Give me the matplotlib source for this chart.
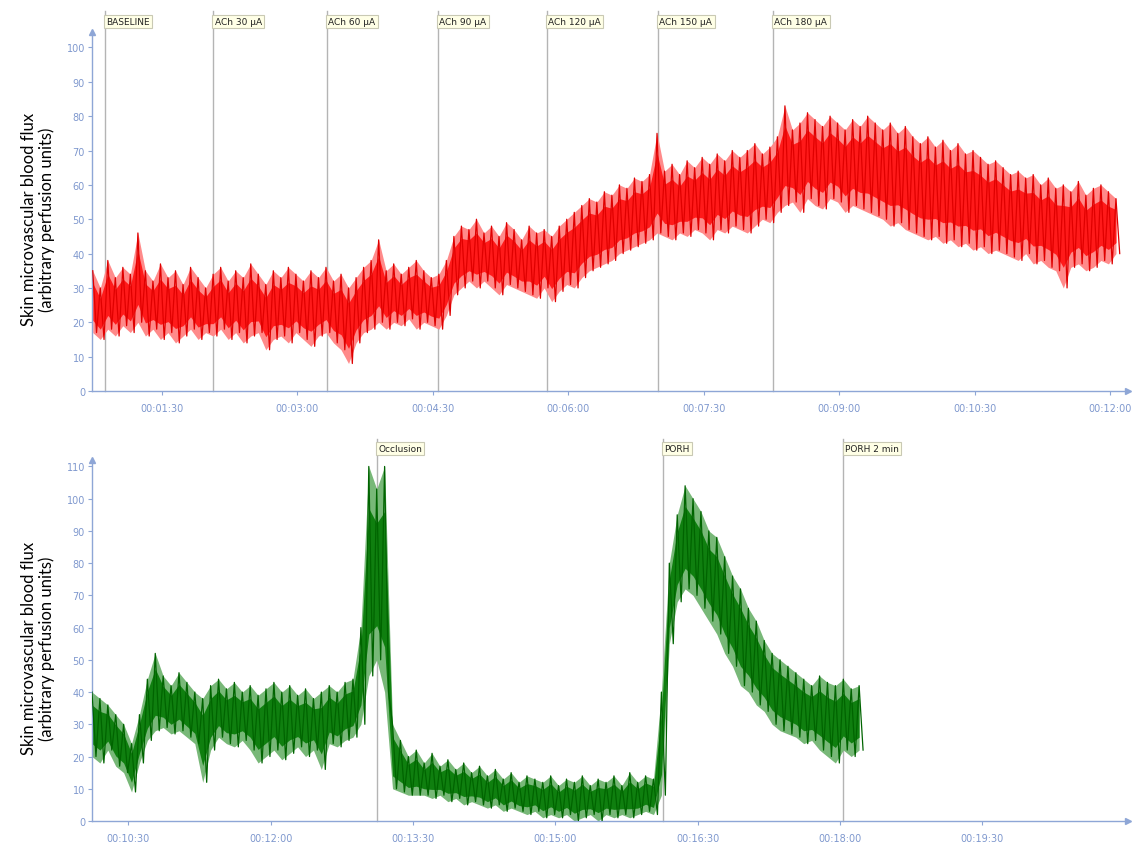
"""Skin microvascular blood flux traces: ACh iontophoresis (top) and PORH (bottom)."""

import matplotlib
matplotlib.use("Agg")
import matplotlib.pyplot as plt
import numpy as np
from matplotlib.ticker import FuncFormatter

# ---- data (seconds, perfusion units) ----
# Each trace is stored as alternating local peaks / troughs every 5 s.
ach_start = 44
ach_peaks = [35, 30, 38, 33, 36, 34, 46, 35, 32, 37, 33, 35, 31, 36, 33, 30, 34, 36, 32, 35,
             33, 37, 34, 31, 35, 33, 36, 34, 32, 35, 33, 36, 32, 34, 30, 33, 36, 38, 44, 35,
             37, 34, 36, 38, 35, 33, 34, 38, 45, 48, 47, 50, 46, 48, 45, 49, 47, 44, 48, 46,
             47, 45, 48, 50, 52, 54, 56, 55, 58, 57, 60, 59, 62, 61, 63, 75, 64, 66, 63, 67,
             65, 68, 66, 69, 67, 70, 68, 70, 72, 69, 71, 74, 83, 76, 78, 81, 79, 77, 80, 78,
             76, 79, 77, 80, 78, 76, 78, 75, 77, 74, 72, 74, 71, 73, 70, 72, 69, 70, 68, 66,
             67, 65, 63, 64, 62, 63, 60, 62, 59, 60, 58, 61, 57, 59, 60, 58, 56]
ach_troughs = [17, 15, 18, 16, 19, 17, 20, 16, 18, 15, 17, 14, 16, 18, 15, 17, 16, 18, 15, 17,
               14, 16, 17, 12, 15, 16, 14, 17, 15, 13, 16, 17, 14, 12, 8, 14, 17, 18, 20, 18,
               20, 19, 21, 18, 20, 19, 18, 22, 28, 30, 32, 30, 32, 30, 28, 31, 30, 29, 28, 27,
               30, 26, 29, 31, 30, 33, 35, 36, 37, 38, 40, 41, 42, 43, 44, 46, 45, 44, 46, 45,
               47, 46, 44, 47, 46, 48, 47, 46, 48, 50, 49, 52, 54, 55, 52, 56, 54, 53, 56, 55,
               52, 54, 53, 52, 51, 50, 48, 49, 47, 46, 45, 44, 45, 43, 44, 42, 43, 41, 42, 40,
               41, 40, 39, 38, 40, 37, 38, 36, 35, 30, 36, 37, 35, 36, 38, 37, 40]
ach_events = [52, 124, 199.6, 273.4, 345.8, 419.6, 496]
ach_labels = ["BASELINE", "ACh 30 µA", "ACh 60 µA", "ACh 90 µA",
              "ACh 120 µA", "ACh 150 µA", "ACh 180 µA"]
ach_xticks = [90, 180, 270, 360, 450, 540, 630, 720]

porh_start = 607
porh_peaks = [40, 38, 36, 33, 30, 24, 33, 44, 52, 45, 42, 46, 43, 40, 38, 42, 44, 41, 43, 40,
              42, 39, 41, 43, 40, 42, 39, 41, 38, 40, 42, 40, 43, 44, 60, 110, 103, 110, 30, 25,
              20, 22, 18, 21, 17, 19, 16, 18, 15, 17, 14, 16, 13, 15, 12, 14, 13, 12, 14, 11,
              13, 12, 14, 11, 13, 12, 14, 11, 15, 12, 14, 13, 40, 80, 95, 104, 100, 96, 90, 88,
              82, 76, 72, 66, 62, 56, 52, 50, 48, 46, 44, 42, 45, 43, 42, 44, 41, 42]
porh_troughs = [20, 18, 22, 17, 15, 9, 18, 25, 28, 29, 27, 28, 26, 24, 12, 22, 26, 24, 23, 25,
                22, 18, 20, 22, 19, 21, 23, 20, 22, 16, 24, 23, 25, 26, 30, 45, 50, 40, 10, 9,
                8, 8, 8, 7, 8, 6, 7, 5, 6, 5, 4, 5, 3, 4, 3, 2, 3, 1, 2, 1,
                2, 0, 1, 2, 0, 2, 1, 2, 1, 2, 3, 2, 8, 55, 68, 72, 70, 66, 62, 58,
                52, 48, 42, 40, 36, 34, 30, 28, 27, 26, 24, 25, 22, 20, 18, 22, 20, 22]
porh_events = [787, 968, 1082]
porh_labels = ["Occlusion", "PORH", "PORH 2 min"]
porh_xticks = [630, 720, 810, 900, 990, 1080, 1170]

STEP = 5
AXIS_BLUE = "#8EA6D6"
TICK_BLUE = "#7F98CE"
YLABEL = "Skin microvascular blood flux\n(arbitrary perfusion units)"


def hms(seconds, _pos=None):
    seconds = int(round(seconds))
    return f"{seconds // 3600:02d}:{(seconds % 3600) // 60:02d}:{seconds % 60:02d}"


def zigzag(start, peaks, troughs):
    """Interleave read peaks and troughs into one plotted trace."""
    n = len(peaks)
    times = start + STEP * np.arange(n)
    t = np.empty(2 * n)
    v = np.empty(2 * n)
    t[0::2] = times
    t[1::2] = times + STEP / 2
    v[0::2] = peaks
    v[1::2] = troughs
    return times, t, v


def draw_panel(ax, start, peaks, troughs, color, band, edge, events, labels,
               xticks, xlim, ylim, yticks, label_y, line_top):
    times, t, v = zigzag(start, peaks, troughs)
    # light spikes at the envelope, saturated body, then the trace itself
    ax.fill_between(times, troughs, peaks, color=edge, linewidth=0, zorder=2)
    mid = (np.asarray(peaks) + np.asarray(troughs)) / 2
    half = (np.asarray(peaks) - np.asarray(troughs)) * 0.3
    ax.fill_between(times, mid - half, mid + half, color=band, linewidth=0, zorder=2)
    ax.plot(t, v, color=color, linewidth=0.9, zorder=3)

    for x, text in zip(events, labels):
        ax.plot([x, x], [0, line_top], color="#B4B4B4", linewidth=1.0,
                clip_on=False, zorder=1)
        ax.text(x + 1, label_y, text, fontsize=6.5, ha="left", va="center",
                color="#222222", clip_on=False,
                bbox=dict(boxstyle="square,pad=0.25", facecolor="#FFFFE6",
                          edgecolor="#C9C9B4", linewidth=0.8))

    ax.set_xlim(*xlim)
    ax.set_ylim(*ylim)
    ax.set_xticks(xticks)
    ax.set_yticks(yticks)
    ax.xaxis.set_major_formatter(FuncFormatter(hms))
    ax.tick_params(axis="both", colors=AXIS_BLUE, labelcolor=TICK_BLUE,
                   labelsize=7, length=3, width=0.8, pad=2)
    ax.tick_params(axis="x", pad=6)
    for side in ("top", "right"):
        ax.spines[side].set_visible(False)
    for side in ("left", "bottom"):
        ax.spines[side].set_color(AXIS_BLUE)
        ax.spines[side].set_linewidth(1.0)
    ax.plot(0, 1, marker="^", markersize=4, color=AXIS_BLUE,
            transform=ax.transAxes, clip_on=False)
    ax.plot(1, 0, marker=">", markersize=4, color=AXIS_BLUE,
            transform=ax.transAxes, clip_on=False)
    ax.text(-0.052, 0.48, YLABEL, transform=ax.transAxes, rotation=90,
            ha="center", va="center", fontsize=12, family="Lato",
            linespacing=1.15)


fig = plt.figure(figsize=(11.32, 8.45), dpi=100)
W, H = 1132, 845

ax_top = fig.add_axes([92 / W, 1 - 392 / H, (1128 - 92) / W, (392 - 33) / H])
draw_panel(ax_top, ach_start, ach_peaks, ach_troughs, "#E00000", "#FF1A1A", "#FF8A8A",
           ach_events, ach_labels, ach_xticks, (43.5, 732), (0, 104.5),
           range(0, 101, 10), 107.5, 110.5)

ax_bot = fig.add_axes([92 / W, 1 - 822 / H, (1128 - 92) / W, (822 - 461) / H])
draw_panel(ax_bot, porh_start, porh_peaks, porh_troughs, "#006400", "#0F7F0F", "#78B878",
           porh_events, porh_labels, porh_xticks, (607, 1262), (0, 112),
           range(0, 111, 10), 115.5, 118.5)

fig.savefig("out.png", dpi=100)
plt.close(fig)
